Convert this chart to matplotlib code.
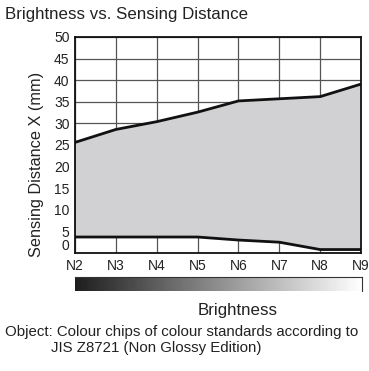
import numpy as np
import matplotlib
matplotlib.use("Agg")
import matplotlib.pyplot as plt

plt.rcParams['font.family'] = ['Liberation Sans Narrow', 'Liberation Sans', 'DejaVu Sans']

# Brightness grades (Munsell neutral values) and sensing range
grades = ["N2", "N3", "N4", "N5", "N6", "N7", "N8", "N9"]
upper_mm = [25.6, 28.6, 30.4, 32.6, 35.2, 35.7, 36.2, 39.1]
lower_mm = [3.7, 3.7, 3.7, 3.7, 3.0, 2.5, 0.8, 0.8]
y_ticks = list(range(0, 55, 5))

W, H = 369, 371
TXT = "#222222"
fig = plt.figure(figsize=(W / 100, H / 100), dpi=100)

def box(x0, y0, x1, y1):
    # pixel box (top-left origin) -> figure fraction rect
    return [x0 / W, 1 - y1 / H, (x1 - x0) / W, (y1 - y0) / H]

ax = fig.add_axes(box(75, 37, 361, 253))
x = np.arange(len(grades))
ax.fill_between(x, lower_mm, upper_mm, color="#d1d1d3", zorder=2, lw=0)
ax.plot(x, upper_mm, color="#111111", lw=2.0, zorder=3)
ax.plot(x, lower_mm, color="#111111", lw=2.0, zorder=3)

ax.set_xlim(0, len(grades) - 1)
ax.set_ylim(0, 50)
ax.set_xticks(x)
ax.set_xticklabels(grades, fontsize=10, color=TXT)
ax.set_yticks(y_ticks)
ax.set_yticklabels([str(v) for v in y_ticks], fontsize=10, color=TXT)
ax.tick_params(length=0)
ax.tick_params(axis="x", pad=4)
ax.tick_params(axis="y", pad=4)
# keep the zero label clear of the N2 label
ax.get_yticklabels()[0].set_va("bottom")
ax.grid(True, color="#555555", lw=0.9, zorder=1)
ax.set_axisbelow(True)
for sp in ax.spines.values():
    sp.set_color("#111111")
    sp.set_linewidth(1.3)
    sp.set_zorder(4)

# Dark-to-light gradient strip under the axis
bar = fig.add_axes(box(75, 277, 362, 291))
grad = np.linspace(0.12, 1.0, 256).reshape(1, -1)
bar.imshow(grad, cmap="gray", vmin=0, vmax=1, aspect="auto", extent=[0, 1, 0, 1])
bar.set_xticks([])
bar.set_yticks([])
for name, sp in bar.spines.items():
    sp.set_visible(name in ("right", "top"))
    sp.set_linewidth(0.8)
    sp.set_color("#333333")

fig.text(37 / W, 1 - 164 / H, "Sensing Distance X (mm)", fontsize=11.7,
         rotation=90, va="center", ha="center", color=TXT)
fig.text(5 / W, 1 - 15 / H, "Brightness vs. Sensing Distance", fontsize=12.2,
         va="center", ha="left", color=TXT)
fig.text(238 / W, 1 - 310 / H, "Brightness", fontsize=12.2, va="center",
         ha="center", color=TXT)
fig.text(5 / W, 1 - 332 / H, "Object: Colour chips of colour standards according to",
         fontsize=10.8, va="center", ha="left", color=TXT)
fig.text(51 / W, 1 - 348 / H, "JIS Z8721 (Non Glossy Edition)",
         fontsize=10.8, va="center", ha="left", color=TXT)

fig.savefig("out.png", dpi=100)
